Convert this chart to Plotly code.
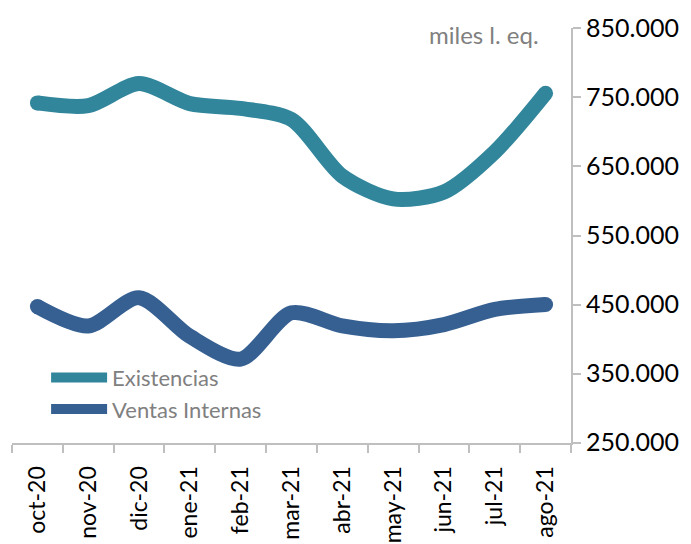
import plotly.graph_objects as go

months = ["oct-20", "nov-20", "dic-20", "ene-21", "feb-21", "mar-21",
          "abr-21", "may-21", "jun-21", "jul-21", "ago-21"]
existencias = [742000, 738000, 770000, 741000, 734000, 718000,
               636000, 603000, 613000, 671000, 756000]
ventas = [447000, 419000, 460000, 404000, 371000, 438000,
          419000, 412000, 421000, 443000, 450000]
y_ticks = [250000, 350000, 450000, 550000, 650000, 750000, 850000]

C_EX = "#31869B"
C_VE = "#366092"
LW = 15
FONT = "Lato"
GRAY = "#BFBFBF"

fig = go.Figure()
for name, vals, col in [("Existencias", existencias, C_EX),
                        ("Ventas Internas", ventas, C_VE)]:
    fig.add_trace(go.Scatter(
        x=months, y=vals, name=name, mode="lines",
        line=dict(color=col, width=LW, shape="spline", smoothing=0.8),
    ))
    fig.add_trace(go.Scatter(
        x=[months[0], months[-1]], y=[vals[0], vals[-1]], mode="markers",
        marker=dict(color=col, size=LW), showlegend=False, hoverinfo="skip",
    ))

fig.update_layout(
    width=691, height=544,
    margin=dict(l=4, r=128, t=16, b=109),
    paper_bgcolor="white", plot_bgcolor="white",
    separators=",.",
    font=dict(family=FONT, size=22, color="black"),
    showlegend=True,
    legend=dict(x=0.061, y=0.208, xanchor="left", yanchor="top",
                font=dict(family=FONT, size=22, color="#808080"),
                bgcolor="rgba(0,0,0,0)", itemwidth=56, tracegroupgap=4),
    xaxis=dict(type="category", range=[-0.5, 10.5], showgrid=False,
               showline=True, linecolor=GRAY, linewidth=2,
               ticks="outside", tickson="boundaries", ticklen=8,
               tickcolor=GRAY, tickwidth=2, tickangle=-90,
               ticklabelstandoff=12,
               tickfont=dict(family=FONT, size=23, color="black")),
    yaxis=dict(side="right", range=[249500, 850500],
               tickvals=y_ticks, tickformat=",.0f",
               showgrid=False, zeroline=False,
               showline=True, linecolor=GRAY, linewidth=2,
               ticks="outside", ticklen=8, tickcolor=GRAY, tickwidth=2,
               tickfont=dict(family=FONT, size=25, color="black")),
    annotations=[dict(text="miles l. eq.", xref="paper", yref="paper",
                      x=0.947, y=0.985, xanchor="right", yanchor="middle",
                      showarrow=False,
                      font=dict(family=FONT, size=24, color="#808080"))],
)

fig.write_html("out.html")
